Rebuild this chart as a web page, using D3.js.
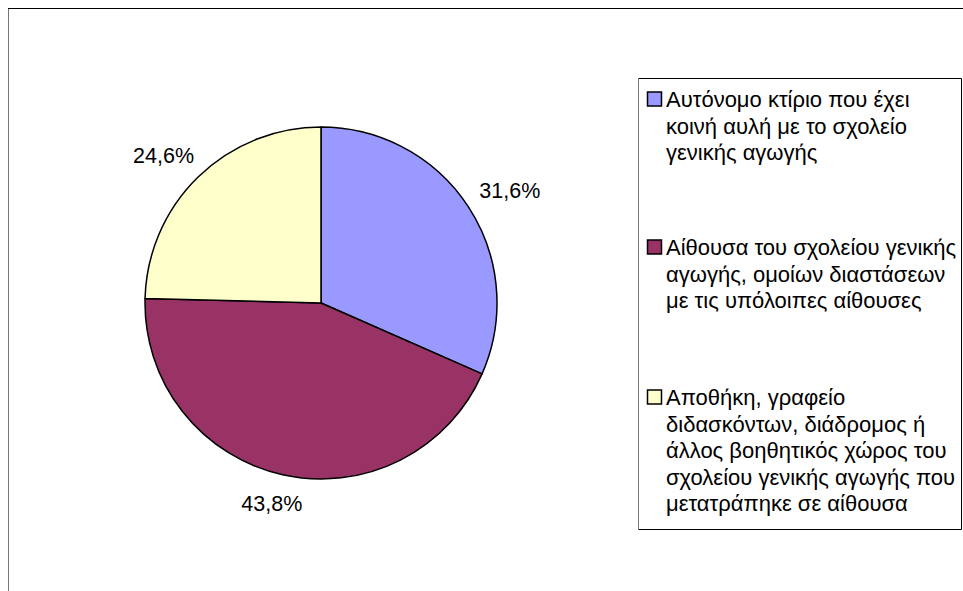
<!DOCTYPE html>
<html>
<head>
<meta charset="utf-8">
<script src="https://cdn.jsdelivr.net/npm/d3@7"></script>
<style>
  html, body { margin: 0; padding: 0; background: #ffffff; }
  svg { display: block; }
  text { font-family: "Liberation Sans", Arial, sans-serif; fill: #000; }
</style>
</head>
<body>
<svg id="chart" width="963" height="591"></svg>
<script>
// ---- data ----
const categories = [
  "Αυτόνομο κτίριο που έχει κοινή αυλή με το σχολείο γενικής αγωγής",
  "Αίθουσα του σχολείου γενικής αγωγής, ομοίων διαστάσεων με τις υπόλοιπες αίθουσες",
  "Αποθήκη, γραφείο διδασκόντων, διάδρομος ή άλλος βοηθητικός χώρος του σχολείου γενικής αγωγής που μετατράπηκε σε αίθουσα"
];
const legendLines = [
  ["Αυτόνομο κτίριο που έχει", "κοινή αυλή με το σχολείο", "γενικής αγωγής"],
  ["Αίθουσα του σχολείου γενικής", "αγωγής, ομοίων διαστάσεων", "με τις υπόλοιπες αίθουσες"],
  ["Αποθήκη, γραφείο", "διδασκόντων, διάδρομος ή", "άλλος βοηθητικός χώρος του", "σχολείου γενικής αγωγής που", "μετατράπηκε σε αίθουσα"]
];
const values = [31.6, 43.8, 24.6];
const colors = ["#9999FF", "#993366", "#FFFFCC"];

// ---- layout ----
const svg = d3.select("#chart");
const W = 963, H = 591;
const cx = 321, cy = 303, R = 176;
const labelFont = 21.5, legendFont = 22;

// outer chart frame (extends past the visible area): black top, grey left
svg.append("line").attr("x1", 8).attr("x2", W).attr("y1", 8.5).attr("y2", 8.5)
  .attr("stroke", "#000").attr("stroke-width", 1);
svg.append("line").attr("x1", 8.5).attr("x2", 8.5).attr("y1", 9).attr("y2", H)
  .attr("stroke", "#777").attr("stroke-width", 1);

const loc = d3.formatLocale({decimal: ",", thousands: ".", grouping: [3], currency: ["", "€"]});
const fmt = v => loc.format(".1f")(v) + "%";

const pie = d3.pie().sort(null).value(d => d).startAngle(0).endAngle(2 * Math.PI);
const arcs = pie(values);
const arc = d3.arc().innerRadius(0).outerRadius(R);

const g = svg.append("g").attr("transform", `translate(${cx},${cy})`);
g.selectAll("path.slice")
  .data(arcs)
  .join("path")
  .attr("class", "slice")
  .attr("d", arc)
  .attr("fill", (d, i) => colors[i])
  .attr("stroke", "#000")
  .attr("stroke-width", 1.5)
  .attr("stroke-linejoin", "round");

// data labels outside the pie
const labelGap = 19;
g.selectAll("text.lbl")
  .data(arcs)
  .join("text")
  .attr("class", "lbl")
  .attr("font-size", labelFont)
  .attr("dominant-baseline", "central")
  .attr("text-anchor", "middle")
  .text(d => fmt(d.data))
  .each(function(d) {
    const a = (d.startAngle + d.endAngle) / 2;
    const w = this.getBBox().width, h = labelFont;
    const sx = Math.sin(a), sy = -Math.cos(a);
    const r = R + labelGap;
    d3.select(this)
      .attr("x", sx * r + sx * w / 2)
      .attr("y", sy * r + sy * h / 2);
  });

// ---- legend ----
const lgX = 638.5, lgY = 78.5, lgW = 323, lgH = 451;
const lineH = 26.5;
const itemTops = [99, 247, 397];
const lg = svg.append("g");
lg.append("rect")
  .attr("x", lgX).attr("y", lgY).attr("width", lgW).attr("height", lgH)
  .attr("fill", "#fff").attr("stroke", "none");
lg.append("path")
  .attr("d", `M${lgX},${lgY}H${lgX + lgW}V${lgY + lgH}H${lgX}`)
  .attr("fill", "none").attr("stroke", "#000").attr("stroke-width", 1);
lg.append("line")
  .attr("x1", lgX).attr("x2", lgX).attr("y1", lgY).attr("y2", lgY + lgH)
  .attr("stroke", "#777").attr("stroke-width", 1);

legendLines.forEach((lines, i) => {
  const y0 = itemTops[i];
  lg.append("rect")
    .attr("x", 647.5).attr("y", y0 - 7)
    .attr("width", 14).attr("height", 14)
    .attr("fill", colors[i]).attr("stroke", "#000").attr("stroke-width", 1.5);
  lg.append("text")
    .attr("font-size", legendFont)
    .attr("dominant-baseline", "central")
    .selectAll("tspan")
    .data(lines)
    .join("tspan")
    .attr("x", 666)
    .attr("y", (d, j) => y0 + j * lineH)
    .text(d => d);
});
</script>
</body>
</html>
